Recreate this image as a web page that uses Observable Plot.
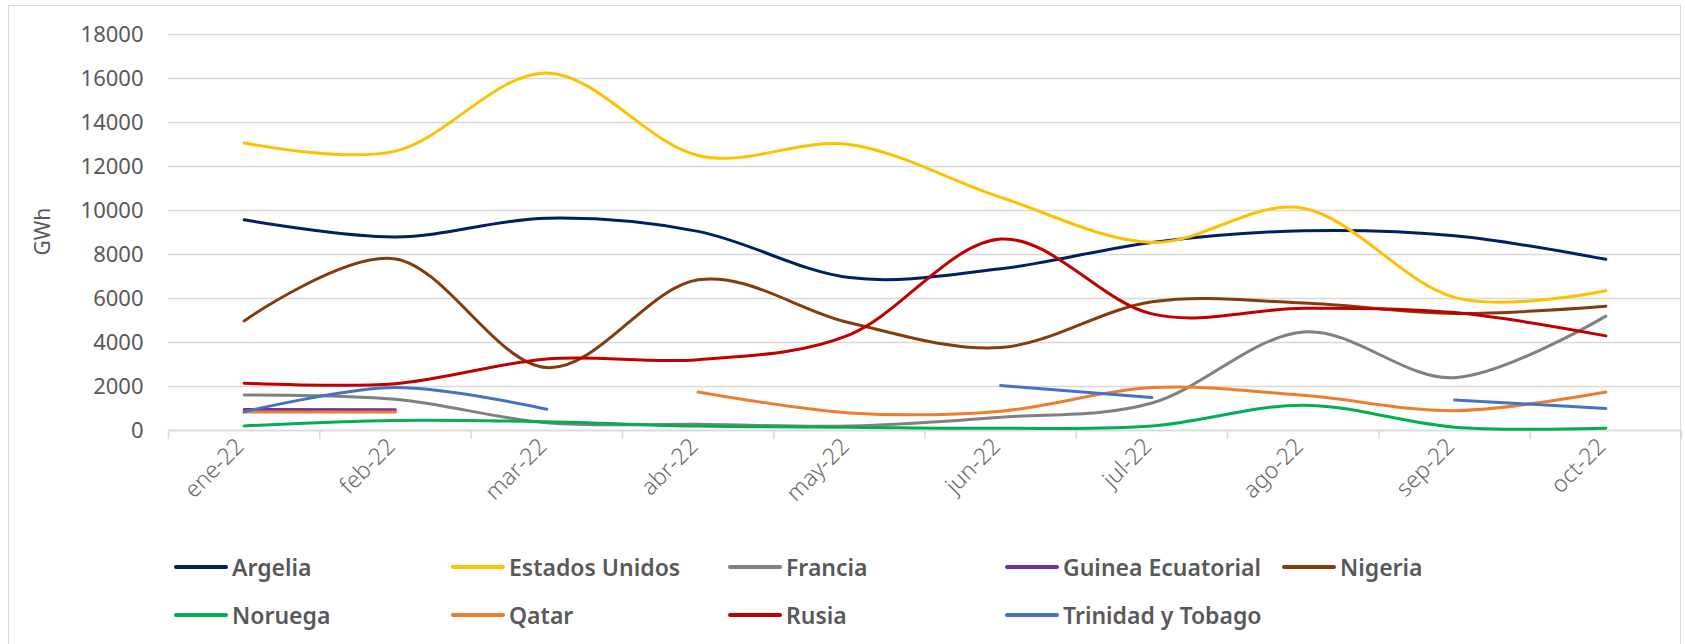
<!DOCTYPE html>
<html>
<head>
<meta charset="utf-8">
<script src="https://cdn.jsdelivr.net/npm/d3@7"></script>
<script src="https://cdn.jsdelivr.net/npm/@observablehq/plot@0.6"></script>
<style>
  html, body { margin: 0; padding: 0; background: #fff; }
  #wrap { position: relative; width: 1685px; height: 644px; overflow: hidden; font-family: "Noto Sans", sans-serif; }
  #frame { position: absolute; left: 8px; top: 5px; width: 1673px; height: 660px; border: 1.5px solid #d9d9d9; box-sizing: border-box; pointer-events: none; }
  #chart { position: absolute; left: 0; top: 0; }
  .leg { position: absolute; display: flex; align-items: center; font-size: 23px; font-weight: 600; color: #595959; white-space: nowrap; }
  .leg .sw { width: 54px; height: 3.5px; border-radius: 2px; margin-right: 4px; }
</style>
</head>
<body>
<div id="wrap">
  <div id="frame"></div>
  <div id="chart"></div>
  <div id="legend"></div>
</div>
<script>
const months = ["ene-22","feb-22","mar-22","abr-22","may-22","jun-22","jul-22","ago-22","sep-22","oct-22"];
const yTicks = [0,2000,4000,6000,8000,10000,12000,14000,16000,18000];

const countries = ["Argelia","Estados Unidos","Francia","Guinea Ecuatorial","Nigeria","Noruega","Qatar","Rusia","Trinidad y Tobago"];
const colors = ["#002060","#FFC000","#808080","#7030A0","#843C0C","#00B050","#ED7D31","#C00000","#4472C4"];

const argelia        = [9580, 8800, 9650, 9050, 6950, 7350, 8550, 9080, 8850, 7780];
const estadosUnidos  = [13070, 12700, 16250, 12500, 13000, 10600, 8550, 10100, 6050, 6350];
const francia        = [1610, 1420, 350, 280, 200, 600, 1250, 4480, 2400, 5200];
const guineaEcuatorial = [950, 940, null, null, null, null, null, null, null, null];
const nigeria        = [4980, 7800, 2860, 6850, 4900, 3770, 5850, 5790, 5320, 5650];
const noruega        = [210, 460, 400, 200, 150, 100, 200, 1150, 150, 100];
const qatar          = [840, 840, null, 1750, 800, 880, 1950, 1600, 900, 1750];
const rusia          = [2150, 2130, 3250, 3220, 4350, 8700, 5300, 5560, 5360, 4300];
const trinidad       = [850, 1950, 970, null, null, 2040, 1500, null, 1390, 1000];

const seriesValues = [argelia, estadosUnidos, francia, guineaEcuatorial, nigeria, noruega, qatar, rusia, trinidad];

const rows = [];
countries.forEach((c, k) => {
  seriesValues[k].forEach((v, i) => rows.push({country: c, i, v}));
});

const W = 1685, H = 530;
const idx = d3.range(months.length);
const edges = d3.range(months.length + 1).map(i => i - 0.5);

const chart = Plot.plot({
  width: W,
  height: H,
  marginLeft: 168,
  marginRight: 4,
  marginTop: 34,
  marginBottom: 100,
  style: { fontFamily: "Noto Sans, sans-serif", color: "#595959", background: "transparent" },
  x: { type: "linear", domain: [-0.5, months.length - 0.5] },
  y: { domain: [0, 18000] },
  color: { domain: countries, range: colors },
  marks: [
    Plot.gridY(yTicks, { stroke: "#d9d9d9", strokeOpacity: 1, strokeWidth: 1.5 }),
    Plot.ruleY([0], { stroke: "#d9d9d9", strokeWidth: 1.5 }),
    Plot.axisX(edges, { tickSize: 9, tickFormat: () => "", stroke: "#d9d9d9", strokeWidth: 1.5, label: null }),
    Plot.axisX(idx, { tickSize: 0, tickPadding: 12, tickRotate: -45, tickFormat: i => months[i], fontSize: 23, fontWeight: 300, fill: "#6a6a6a", label: null, dx: -4 }),
    Plot.axisY(yTicks, { tickSize: 0, tickPadding: 25, tickFormat: d => String(d), fontSize: 22, fill: "#595959", label: null }),
    Plot.text(["GWh"], { frameAnchor: "left", text: d => d, rotate: -90, dx: -125, dy: 23, fontSize: 21, fill: "#595959" }),
    Plot.line(rows, { x: "i", y: "v", z: "country", stroke: "country", strokeWidth: 3, curve: "cardinal", tension: 0, strokeLinecap: "round" })
  ]
});
document.getElementById("chart").appendChild(chart);

const legend = document.getElementById("legend");
countries.forEach((c, k) => {
  const col = k % 5, row = Math.floor(k / 5);
  const el = document.createElement("div");
  el.className = "leg";
  el.style.left = (174 + col * 277) + "px";
  el.style.top = (567 + row * 48 - 16) + "px";
  el.style.height = "32px";
  const sw = document.createElement("span");
  sw.className = "sw";
  sw.style.background = colors[k];
  const tx = document.createElement("span");
  tx.textContent = c;
  el.appendChild(sw);
  el.appendChild(tx);
  legend.appendChild(el);
});
</script>
</body>
</html>
